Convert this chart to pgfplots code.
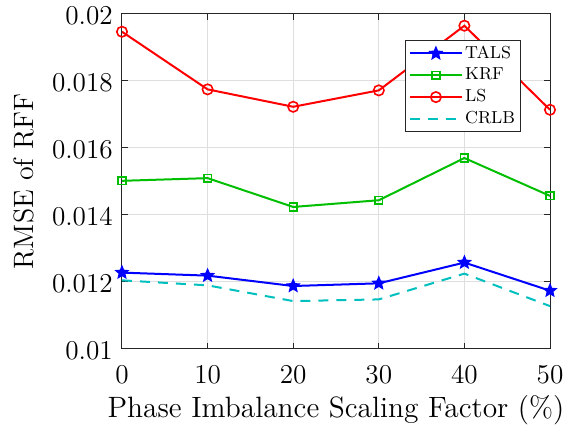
\documentclass[border=0pt]{standalone}
\usepackage{fontspec}
\usepackage{pgfplots}
\pgfplotsset{compat=1.18}

\definecolor{mblue}{rgb}{0,0,1}
\definecolor{mgreen}{rgb}{0,0.75,0}
\definecolor{mred}{rgb}{1,0,0}
\definecolor{mcyan}{rgb}{0,0.75,0.75}
\definecolor{axgray}{rgb}{0.15,0.15,0.15}

% filled five-pointed star, like matlab's pentagram
\pgfdeclareplotmark{pentastar}{%
  \pgfpathmoveto{\pgfpointpolar{90}{\pgfplotmarksize}}%
  \pgfpathlineto{\pgfpointpolar{126}{0.45\pgfplotmarksize}}%
  \pgfpathlineto{\pgfpointpolar{162}{\pgfplotmarksize}}%
  \pgfpathlineto{\pgfpointpolar{198}{0.45\pgfplotmarksize}}%
  \pgfpathlineto{\pgfpointpolar{234}{\pgfplotmarksize}}%
  \pgfpathlineto{\pgfpointpolar{270}{0.45\pgfplotmarksize}}%
  \pgfpathlineto{\pgfpointpolar{306}{\pgfplotmarksize}}%
  \pgfpathlineto{\pgfpointpolar{342}{0.45\pgfplotmarksize}}%
  \pgfpathlineto{\pgfpointpolar{18}{\pgfplotmarksize}}%
  \pgfpathlineto{\pgfpointpolar{54}{0.45\pgfplotmarksize}}%
  \pgfpathclose
  \pgfusepathqfillstroke
}

\begin{document}
\begin{tikzpicture}
\begin{axis}[
  scale only axis,
  width=214pt, height=167.5pt,
  xmin=0, xmax=50, ymin=0.01, ymax=0.02,
  xtick={0,10,...,50},
  ytick={0.01,0.012,0.014,0.016,0.018,0.02},
  scaled y ticks=false,
  /pgf/number format/assume math mode=true,
  yticklabel style={/pgf/number format/fixed, /pgf/number format/precision=3, xshift=-1.1pt, yshift=-1pt},
  xticklabel style={yshift=-4.5pt},
  tick label style={font=\fontsize{13.6}{16}\selectfont},
  xlabel style={font=\fontsize{14.7}{17}\selectfont, yshift=1pt},
  ylabel style={font=\fontsize{14}{17}\selectfont, yshift=2pt},
  xlabel={Phase Imbalance Scaling Factor (\%)},
  ylabel={RMSE of RFF},
  grid=major,
  major grid style={draw=black!13, line width=0.5pt},
  axis line style={draw=axgray, line width=0.5pt},
  tick style={draw=axgray, line width=0.5pt},
  tick align=inside,
  major tick length=3pt,
  legend style={at={(1,1)}, anchor=north east, xshift=-14.6pt, yshift=-13pt,
    font=\fontsize{8.7}{10}\selectfont, draw=axgray, line width=0.6pt,
    inner sep=1.6pt, row sep=1.2pt,
    nodes={inner sep=1pt, text height=6.2pt, text depth=1.5pt}},
  legend cell align=left,
  legend image code/.code={
    \draw[mark repeat=2, mark phase=2, #1] plot coordinates {(0cm,0cm) (0.46cm,0cm) (0.92cm,0cm)};
  },
]
\coordinate (bl) at (rel axis cs:0,0);
\coordinate (tr) at (rel axis cs:1,1);
\addplot[mblue, line width=1pt, mark=pentastar, mark size=3.2pt, mark options={line width=0.6pt, fill=mblue}]
  table {
    0  0.01228
    10 0.01219
    20 0.01188
    30 0.01196
    40 0.01258
    50 0.01174
  };
\addplot[mgreen, line width=1pt, mark=square, mark size=1.9pt, mark options={line width=0.8pt}]
  table {
    0  0.01502
    10 0.01510
    20 0.01424
    30 0.01444
    40 0.01570
    50 0.01457
  };
\addplot[mred, line width=1pt, mark=o, mark size=2.6pt, mark options={line width=0.8pt}]
  table {
    0  0.01947
    10 0.01775
    20 0.01723
    30 0.01772
    40 0.01965
    50 0.01714
  };
\addplot[mcyan, line width=1pt, dashed, dash pattern=on 5pt off 4pt]
  table {
    0  0.01205
    10 0.01190
    20 0.01143
    30 0.01148
    40 0.01225
    50 0.01128
  };
\legend{TALS, KRF, LS, CRLB}
\end{axis}
\pgfresetboundingbox
\path ([shift={(-61pt,-38pt)}]bl) rectangle ([shift={(15.5pt,7pt)}]tr);
\end{tikzpicture}
\end{document}
